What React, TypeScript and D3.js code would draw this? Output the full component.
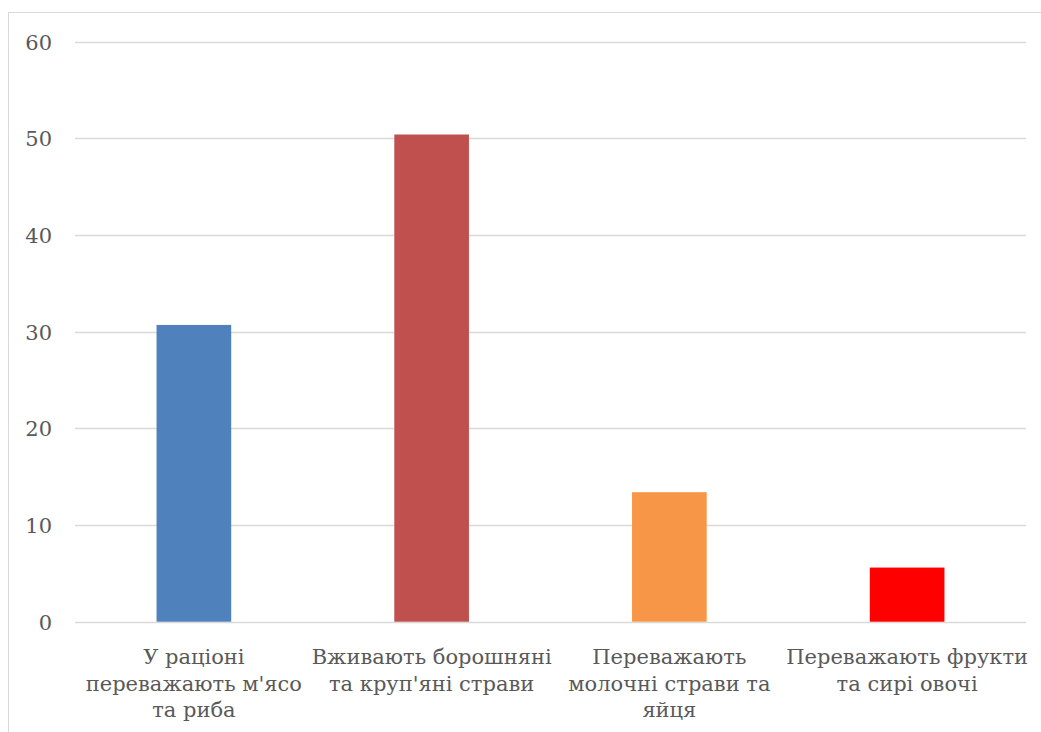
import React, { useEffect } from "react";
import * as d3 from "d3";

const categories: string[][] = [
  ["У раціоні", "переважають м'ясо", "та риба"],
  ["Вживають борошняні", "та круп'яні страви"],
  ["Переважають", "молочні страви та", "яйця"],
  ["Переважають фрукти", "та сирі овочі"],
];
const values: number[] = [30.7, 50.4, 13.4, 5.6];
const barColors: string[] = ["#4F81BD", "#C0504D", "#F79646", "#FF0000"];
const yTicks: number[] = [0, 10, 20, 30, 40, 50, 60];

const W = 1041;
const H = 732;
const FONT = "DejaVu Serif";
const TEXT = "#595959";
const GRID = "#d9d9d9";

export default function App() {
  useEffect(() => {
    document.body.style.margin = "0";
    document.body.style.overflow = "hidden";
  }, []);

  const x = d3
    .scaleBand<number>()
    .domain(categories.map((_, i) => i))
    .range([75, 1026])
    .paddingInner(0.686)
    .paddingOuter(0.343);
  const y = d3.scaleLinear().domain([0, 60]).range([621.7, 41.7]);

  const center = (i: number) => (x(i) as number) + x.bandwidth() / 2;

  return (
    <svg width={W} height={H} style={{ display: "block", background: "#fff" }}>
      <rect x={8.5} y={12.5} width={W + 20} height={H + 20} fill="#fff" stroke={GRID} strokeWidth={1} />
      {yTicks.map((t) => (
        <g key={t}>
          <line x1={75} x2={1026} y1={Math.round(y(t)) + 0.5} y2={Math.round(y(t)) + 0.5} stroke={GRID} strokeWidth={1.3} />
          <text
            x={52}
            y={y(t) + 8}
            textAnchor="end"
            fontFamily={FONT}
            fontSize={21}
            fill={TEXT}
          >
            {t}
          </text>
        </g>
      ))}
      {values.map((v, i) => (
        <rect
          key={i}
          x={x(i)}
          y={y(v)}
          width={x.bandwidth()}
          height={y(0) - y(v)}
          fill={barColors[i]}
        />
      ))}
      {categories.map((lines, i) => (
        <text key={i} textAnchor="middle" fontFamily={FONT} fontSize={21} fill={TEXT}>
          {lines.map((l, j) => (
            <tspan key={j} x={center(i)} y={664 + j * 26.5}>
              {l}
            </tspan>
          ))}
        </text>
      ))}
    </svg>
  );
}
